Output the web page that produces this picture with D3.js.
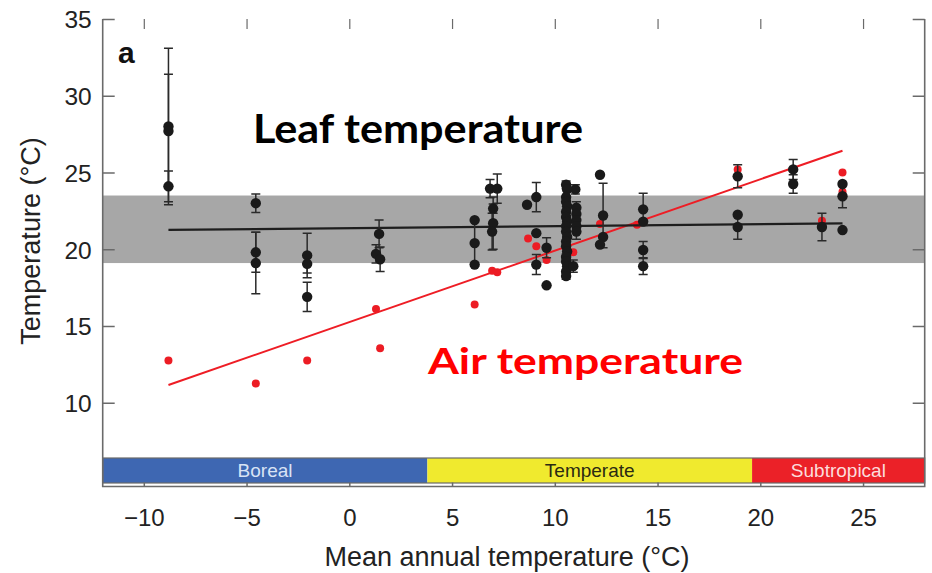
<!DOCTYPE html>
<html>
<head>
<meta charset="utf-8">
<script src="https://cdn.jsdelivr.net/npm/d3@7"></script>
<style>
  html, body { margin: 0; padding: 0; background: #fff; }
  svg { display: block; font-family: "Liberation Sans", Arial, sans-serif; }
</style>
</head>
<body>
<svg id="chart" width="932" height="573"></svg>
<script>
// Axis extents and ticks
const xDomain = [-12, 28];
const yDomain = [6.4, 35];
const xTickValues = [-10, -5, 0, 5, 10, 15, 20, 25];
const yTickValues = [10, 15, 20, 25, 30, 35];

// Leaf temperature per site: mean annual temperature, leaf temperature, error half-width
const leafMAT = [
  -8.8, -8.8, -8.8,
  -4.55, -4.55, -4.55,
  -2.05, -2.05, -2.05,
  1.45, 1.3, 1.5,
  6.1, 6.1, 6.1,
  6.85, 7.2, 7.0, 7.0, 6.95,
  8.65,
  9.1, 9.1, 9.1,
  9.6, 9.6,
  10.55, 10.6, 10.55, 10.55, 10.6, 10.55, 10.55, 10.6, 10.55, 10.55, 10.6, 10.55, 10.55, 10.6, 10.55, 10.55, 10.6, 10.55, 10.55,
  11.0, 11.05, 11.05, 11.05, 11.05, 11.05, 10.9,
  12.2, 12.35, 12.35, 12.2,
  14.3, 14.3, 14.3, 14.3,
  18.9, 18.9, 18.9,
  21.6, 21.6,
  23.0,
  24.0, 24.0, 24.0
];
const leafTemp = [
  28.0, 27.7, 24.1,
  23.0, 19.8, 19.1,
  19.6, 19.05, 16.9,
  21.0, 19.7, 19.35,
  21.9, 20.4, 19.0,
  23.95, 23.95, 22.65, 21.7, 21.15,
  22.9,
  23.4, 21.05, 19.0,
  20.1, 17.65,
  24.2, 23.9, 23.4, 23.1, 22.8, 22.45, 22.1, 21.8, 21.5, 21.15, 20.8, 20.5, 20.2, 19.85, 19.5, 19.2, 18.9, 18.55, 18.25,
  23.9, 22.7, 22.3, 21.9, 21.5, 21.15, 18.9,
  24.85, 22.2, 20.8, 20.3,
  22.6, 21.8, 19.95, 18.9,
  24.75, 22.25, 21.45,
  25.2, 24.25,
  21.45,
  24.25, 23.45, 21.25
];
const leafErr = [
  5.1, 3.7, 1.0,
  0.6, 1.3, 2.0,
  1.45, 0.6, 0.95,
  0.9, 0.6, 0.8,
  0, 1.5, 0,
  0.6, 0.95, 0.3, 1.7, 1.2,
  0,
  0.95, 0, 0.65,
  0.65, 0,
  0.25, 0, 0, 0, 0, 0, 0, 0, 0, 0, 0, 0, 0, 0, 0, 0, 0, 0, 0.2,
  0.3, 0.4, 0, 0.4, 0, 0.5, 0.4,
  0, 2.1, 0, 0,
  1.05, 0, 0.55, 0.55,
  0.75, 0, 0.8,
  0.65, 0.6,
  0.9,
  0, 0.75, 0
];

// Air temperature per site
const airMAT = [-8.8, -4.55, -2.05, 1.5, 1.3, 6.1, 6.95, 7.2, 8.7, 9.1, 9.6, 10.9, 12.2, 14.0, 18.9, 23.0, 24.0, 24.0];
const airTemp = [12.75, 11.25, 12.75, 13.55, 16.1, 16.4, 18.6, 18.5, 20.7, 20.2, 19.3, 19.8, 21.65, 21.6, 25.2, 21.85, 25.0, 23.75];

// Fitted lines (end points)
const leafFit = [[-8.8, 21.26], [24.0, 21.69]];
const airFit = [[-8.8, 11.16], [24.0, 26.42]];

// Shaded leaf temperature band
const leafBand = [19.1, 23.5];

// Biome strip along the x axis
const biomeNames = ["Boreal", "Temperate", "Subtropical"];
const biomeEdges = [-12, 3.8, 19.6, 28];

// ---- layout ----
const plotLeft = 102.7, plotRight = 924.7, plotTop = 19, plotBottom = 458;
const stripTop = 458, stripBottom = 483, axisY = 486.5;

const svg = d3.select("#chart");
const x = d3.scaleLinear().domain(xDomain).range([plotLeft, plotRight]);
const y = d3.scaleLinear().domain(yDomain).range([plotBottom, plotTop]);

const axisColor = "#6a6a6a";
const textColor = "#222";

// shaded band
svg.append("rect")
  .attr("x", plotLeft).attr("width", plotRight - plotLeft)
  .attr("y", y(leafBand[1])).attr("height", y(leafBand[0]) - y(leafBand[1]))
  .attr("fill", "#a7a7a7");

// biome strip
const biomeFill = ["#3e67b2", "#f0ea2e", "#eb2128"];
const biomeText = ["#d9e3f5", "#2b2b12", "#fcdcdc"];
const strip = svg.append("g");
biomeNames.forEach((name, i) => {
  const x0 = x(biomeEdges[i]), x1 = x(biomeEdges[i + 1]);
  strip.append("rect")
    .attr("x", x0).attr("y", stripTop)
    .attr("width", x1 - x0).attr("height", stripBottom - stripTop)
    .attr("fill", biomeFill[i]);
  strip.append("text")
    .attr("x", (x0 + x1) / 2).attr("y", 477)
    .attr("text-anchor", "middle")
    .attr("font-size", 19)
    .attr("fill", biomeText[i])
    .text(name);
});
strip.append("rect")
  .attr("x", plotLeft).attr("y", stripTop)
  .attr("width", plotRight - plotLeft).attr("height", stripBottom - stripTop)
  .attr("fill", "none").attr("stroke", axisColor).attr("stroke-width", 1.2);

// frame: left, right and bottom axis lines
svg.append("path")
  .attr("d", `M${plotLeft},${plotTop}V${axisY}H${plotRight}V${plotTop}`)
  .attr("fill", "none").attr("stroke", axisColor).attr("stroke-width", 1.6);

// y axis (left), ticks pointing inward
const yAxis = d3.axisLeft(y).tickValues(yTickValues).tickSize(-12).tickPadding(11).tickFormat(d3.format("d"));
const gy = svg.append("g").attr("transform", `translate(${plotLeft},0)`).call(yAxis);
gy.select(".domain").remove();
gy.selectAll(".tick line").attr("stroke", axisColor).attr("stroke-width", 1.5);
gy.selectAll(".tick text")
  .attr("font-size", 24.5).attr("fill", textColor)
  .attr("font-family", "'Liberation Sans', Arial, sans-serif")
  .attr("dy", "0.36em");

// y ticks on right edge
const gyr = svg.append("g").attr("transform", `translate(${plotRight},0)`)
  .call(d3.axisRight(y).tickValues(yTickValues).tickSize(-12).tickFormat(""));
gyr.select(".domain").remove();
gyr.selectAll(".tick line").attr("stroke", axisColor).attr("stroke-width", 1.5);

// x axis, ticks pointing up into the strip
const minus = d => (d < 0 ? "\u2212" + Math.abs(d) : String(d));
const xAxis = d3.axisBottom(x).tickValues(xTickValues).tickSize(-4).tickPadding(22).tickFormat(minus);
const gx = svg.append("g").attr("transform", `translate(0,${axisY})`).call(xAxis);
gx.select(".domain").remove();
gx.selectAll(".tick line").attr("stroke", axisColor).attr("stroke-width", 1.5);
gx.selectAll(".tick text")
  .attr("font-size", 24).attr("fill", textColor)
  .attr("font-family", "'Liberation Sans', Arial, sans-serif");

// x ticks along top edge
const gxt = svg.append("g").attr("transform", `translate(0,${plotTop})`)
  .call(d3.axisTop(x).tickValues(xTickValues).tickSize(-10).tickFormat(""));
gxt.select(".domain").remove();
gxt.selectAll(".tick line").attr("stroke", axisColor).attr("stroke-width", 1.2);

// axis titles
svg.append("text")
  .attr("x", 507).attr("y", 566)
  .attr("text-anchor", "middle").attr("font-size", 27).attr("fill", textColor)
  .text("Mean annual temperature (\u00B0C)");
svg.append("text")
  .attr("transform", `translate(40,241) rotate(-90)`)
  .attr("text-anchor", "middle").attr("font-size", 27).attr("fill", textColor)
  .text("Temperature (\u00B0C)");

// panel letter
svg.append("text")
  .attr("x", 118).attr("y", 63)
  .attr("font-size", 30).attr("font-weight", "bold").attr("fill", "#111")
  .text("a");

const line = d3.line().x(d => x(d[0])).y(d => y(d[1]));

// air temperature: fit and points
svg.append("path").datum(airFit)
  .attr("d", line).attr("fill", "none").attr("stroke", "#ee1d25").attr("stroke-width", 2);
svg.append("g").selectAll("circle")
  .data(d3.range(airMAT.length))
  .join("circle")
  .attr("cx", i => x(airMAT[i])).attr("cy", i => y(airTemp[i]))
  .attr("r", 4).attr("fill", "#ec1c24");

// leaf temperature: fit, error bars, points
svg.append("path").datum(leafFit)
  .attr("d", line).attr("fill", "none").attr("stroke", "#1e1e1e").attr("stroke-width", 2.2);

const idx = d3.range(leafMAT.length);
const bars = svg.append("g").attr("stroke", "#2a2a2a").attr("stroke-width", 1.5).attr("fill", "none");
bars.selectAll("path")
  .data(idx.filter(i => leafErr[i] > 0))
  .join("path")
  .attr("d", i => {
    const cx = x(leafMAT[i]);
    const y0 = y(leafTemp[i] - leafErr[i]), y1 = y(leafTemp[i] + leafErr[i]);
    return `M${cx},${y0}V${y1}M${cx - 4.5},${y0}H${cx + 4.5}M${cx - 4.5},${y1}H${cx + 4.5}`;
  });

svg.append("g").selectAll("circle")
  .data(idx)
  .join("circle")
  .attr("cx", i => x(leafMAT[i])).attr("cy", i => y(leafTemp[i]))
  .attr("r", 5.2).attr("fill", "#1a1a1a");

// series captions
svg.append("text")
  .attr("x", 253).attr("y", 143)
  .attr("font-family", "Lato, 'Open Sans', sans-serif").attr("font-weight", 700)
  .attr("font-size", 40).attr("fill", "#000")
  .attr("textLength", 330).attr("lengthAdjust", "spacingAndGlyphs")
  .text("Leaf temperature");
svg.append("text")
  .attr("x", 428).attr("y", 374)
  .attr("font-family", "Lato, 'Open Sans', sans-serif").attr("font-weight", 700)
  .attr("font-size", 36).attr("fill", "#ff0000")
  .attr("textLength", 315).attr("lengthAdjust", "spacingAndGlyphs")
  .text("Air temperature");
</script>
</body>
</html>
